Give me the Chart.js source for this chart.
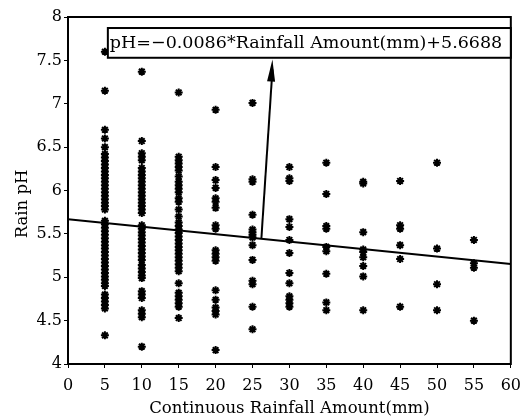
<!DOCTYPE html>
<html>
<head>
<meta charset="utf-8">
<script src="https://cdn.jsdelivr.net/npm/chart.js@4.4.0/dist/chart.umd.min.js"></script>
<style>
  html, body { margin: 0; padding: 0; background: #fff; }
  #wrap { width: 529px; height: 416px; }
</style>
</head>
<body>
<div id="wrap"><canvas id="c" width="529" height="416"></canvas></div>
<script>
// pH readings per rainfall class (mm)
const rainfallClasses = [5, 10, 15, 20, 25, 30, 35, 40, 45, 50, 55];
const ph5 = [7.60, 7.15, 6.70, 6.60, 6.50, 6.42, 6.38, 6.34, 6.30, 6.26, 6.22, 6.18, 6.14, 6.10, 6.06,
  6.02, 5.98, 5.94, 5.90, 5.86, 5.82, 5.78, 5.65, 5.61, 5.57, 5.53, 5.49, 5.45, 5.41, 5.37, 5.33,
  5.29, 5.25, 5.21, 5.17, 5.13, 5.09, 5.05, 5.01, 4.97, 4.93, 4.90, 4.80, 4.76, 4.72, 4.68, 4.64, 4.33];
const ph10 = [7.37, 6.57, 6.43, 6.39, 6.35, 6.26, 6.22, 6.18, 6.14, 6.10, 6.06, 6.02, 5.98, 5.94, 5.90,
  5.86, 5.82, 5.78, 5.74, 5.60, 5.56, 5.52, 5.48, 5.44, 5.40, 5.36, 5.32, 5.28, 5.24, 5.20, 5.14,
  5.10, 5.06, 5.02, 4.99, 4.84, 4.80, 4.76, 4.62, 4.58, 4.54, 4.20];
const ph15 = [7.13, 6.39, 6.35, 6.31, 6.27, 6.23, 6.16, 6.10, 6.06, 6.02, 5.98, 5.91, 5.87, 5.78, 5.70,
  5.63, 5.59, 5.55, 5.51, 5.47, 5.43, 5.39, 5.35, 5.31, 5.27, 5.23, 5.19, 5.15, 5.11, 5.07, 4.93,
  4.82, 4.78, 4.74, 4.70, 4.66, 4.53];
const ph20 = [6.93, 6.27, 6.12, 6.03, 5.91, 5.87, 5.80, 5.60, 5.56, 5.31, 5.27, 5.23, 5.19, 4.85, 4.74,
  4.65, 4.61, 4.57, 4.16];
const ph25 = [7.01, 6.13, 6.10, 5.72, 5.55, 5.52, 5.49, 5.46, 5.37, 5.20, 4.96, 4.92, 4.66, 4.40];
const ph30 = [6.27, 6.14, 6.11, 5.67, 5.58, 5.43, 5.28, 5.05, 4.93, 4.78, 4.74, 4.70, 4.66];
const ph35 = [6.32, 5.96, 5.59, 5.56, 5.35, 5.30, 5.04, 4.71, 4.62];
const ph40 = [6.10, 6.08, 5.52, 5.32, 5.29, 5.23, 5.13, 5.01, 4.62];
const ph45 = [6.11, 5.60, 5.56, 5.37, 5.21, 4.66];
const ph50 = [6.32, 5.33, 4.92, 4.62];
const ph55 = [5.43, 5.16, 5.11, 4.50];
const phByClass = [ph5, ph10, ph15, ph20, ph25, ph30, ph35, ph40, ph45, ph50, ph55];

// fitted line from the equation in the box
const SLOPE = -0.0086;
const INTERCEPT = 5.6688;
const lineX = [0, 60];
const equationText = 'pH=\u22120.0086*Rainfall Amount(mm)+5.6688';
const yTitle = 'Rain pH';

const xTicks = [0, 5, 10, 15, 20, 25, 30, 35, 40, 45, 50, 55, 60];
const yTicks = [4, 4.5, 5, 5.5, 6, 6.5, 7, 7.5, 8];

const SERIF = '"DejaVu Serif", "Liberation Serif", serif';

const scatterPoints = [];
rainfallClasses.forEach((mm, i) => {
  phByClass[i].forEach((v) => scatterPoints.push({ x: mm, y: v }));
});
const linePoints = lineX.map((x) => ({ x, y: INTERCEPT + SLOPE * x }));

// frame, equation box, arrow and y title (sits a bit below the plot centre)
const extras = {
  id: 'extras',
  afterDatasetsDraw(chart) {
    const { ctx, chartArea: a, scales: { x, y } } = chart;
    ctx.save();
    ctx.strokeStyle = '#000';
    ctx.lineWidth = 2;
    ctx.strokeRect(a.left, a.top, a.right - a.left, a.bottom - a.top);

    // arrow from the fit line up to the box
    const x0 = x.getPixelForValue(26.2), y0 = y.getPixelForValue(INTERCEPT + SLOPE * 26.2);
    const x1 = x.getPixelForValue(27.7), y1 = y.getPixelForValue(7.51);
    ctx.beginPath();
    ctx.moveTo(x0, y0);
    ctx.lineTo(x1, y1 + 10);
    ctx.stroke();
    const ang = Math.atan2(y1 - y0, x1 - x0);
    ctx.beginPath();
    ctx.moveTo(x1, y1);
    ctx.lineTo(x1 - 22 * Math.cos(ang) + 4 * Math.sin(ang), y1 - 22 * Math.sin(ang) - 4 * Math.cos(ang));
    ctx.lineTo(x1 - 22 * Math.cos(ang) - 4 * Math.sin(ang), y1 - 22 * Math.sin(ang) + 4 * Math.cos(ang));
    ctx.closePath();
    ctx.fillStyle = '#000';
    ctx.fill();

    // equation box
    const bl = x.getPixelForValue(5.4), br = x.getPixelForValue(60);
    const bt = y.getPixelForValue(7.873), bb = y.getPixelForValue(7.53);
    ctx.fillStyle = '#fff';
    ctx.fillRect(bl, bt, br - bl, bb - bt);
    ctx.strokeRect(bl, bt, br - bl, bb - bt);
    let size = 21;
    ctx.font = `${size}px ${SERIF}`;
    while (ctx.measureText(equationText).width > br - bl - 5 && size > 8) {
      size -= 0.25;
      ctx.font = `${size}px ${SERIF}`;
    }
    ctx.fillStyle = '#000';
    ctx.textBaseline = 'middle';
    ctx.textAlign = 'left';
    ctx.fillText(equationText, bl + 2, (bt + bb) / 2 + 1);

    // y axis title
    ctx.translate(23, 204);
    ctx.rotate(-Math.PI / 2);
    ctx.textAlign = 'center';
    ctx.font = `16.5px ${SERIF}`;
    ctx.fillText(yTitle, 0, 0);
    ctx.restore();
  }
};

new Chart(document.getElementById('c'), {
  type: 'scatter',
  data: {
    datasets: [
      {
        type: 'line',
        data: linePoints,
        borderColor: '#000',
        borderWidth: 2,
        pointRadius: 0,
        fill: false,
        order: 0,
      },
      {
        data: scatterPoints,
        pointStyle: 'star',
        pointRadius: 4,
        borderWidth: 2,
        borderColor: '#000',
        backgroundColor: '#000',
        order: 1,
      },
    ],
  },
  options: {
    responsive: false,
    animation: false,
    layout: { padding: { left: 0, right: 17, top: 17, bottom: 0 } },
    plugins: { legend: { display: false }, tooltip: { enabled: false } },
    scales: {
      x: {
        type: 'linear',
        min: 0,
        max: 60,
        afterBuildTicks: (s) => { s.ticks = xTicks.map((v) => ({ value: v })); },
        afterFit: (s) => { s.height = 52; },
        grid: { display: true, drawOnChartArea: false, drawTicks: true, tickLength: 4, color: '#000' },
        border: { display: true, color: '#000', width: 2 },
        ticks: { color: '#000', font: { family: SERIF, size: 16 }, padding: 8, maxRotation: 0 },
        title: { display: true, text: 'Continuous Rainfall Amount(mm)', color: '#000', font: { family: SERIF, size: 16.5 }, padding: { top: 0, bottom: -3 } },
      },
      y: {
        type: 'linear',
        min: 4,
        max: 8,
        afterBuildTicks: (s) => { s.ticks = yTicks.map((v) => ({ value: v })); },
        afterFit: (s) => { s.width = 68; },
        grid: { display: true, drawOnChartArea: false, drawTicks: true, tickLength: 4, color: '#000' },
        border: { display: true, color: '#000', width: 2 },
        ticks: { color: '#000', font: { family: SERIF, size: 16 }, padding: 2, callback: (v) => String(v) },
        title: { display: false },
      },
    },
  },
  plugins: [extras],
});
</script>
</body>
</html>
